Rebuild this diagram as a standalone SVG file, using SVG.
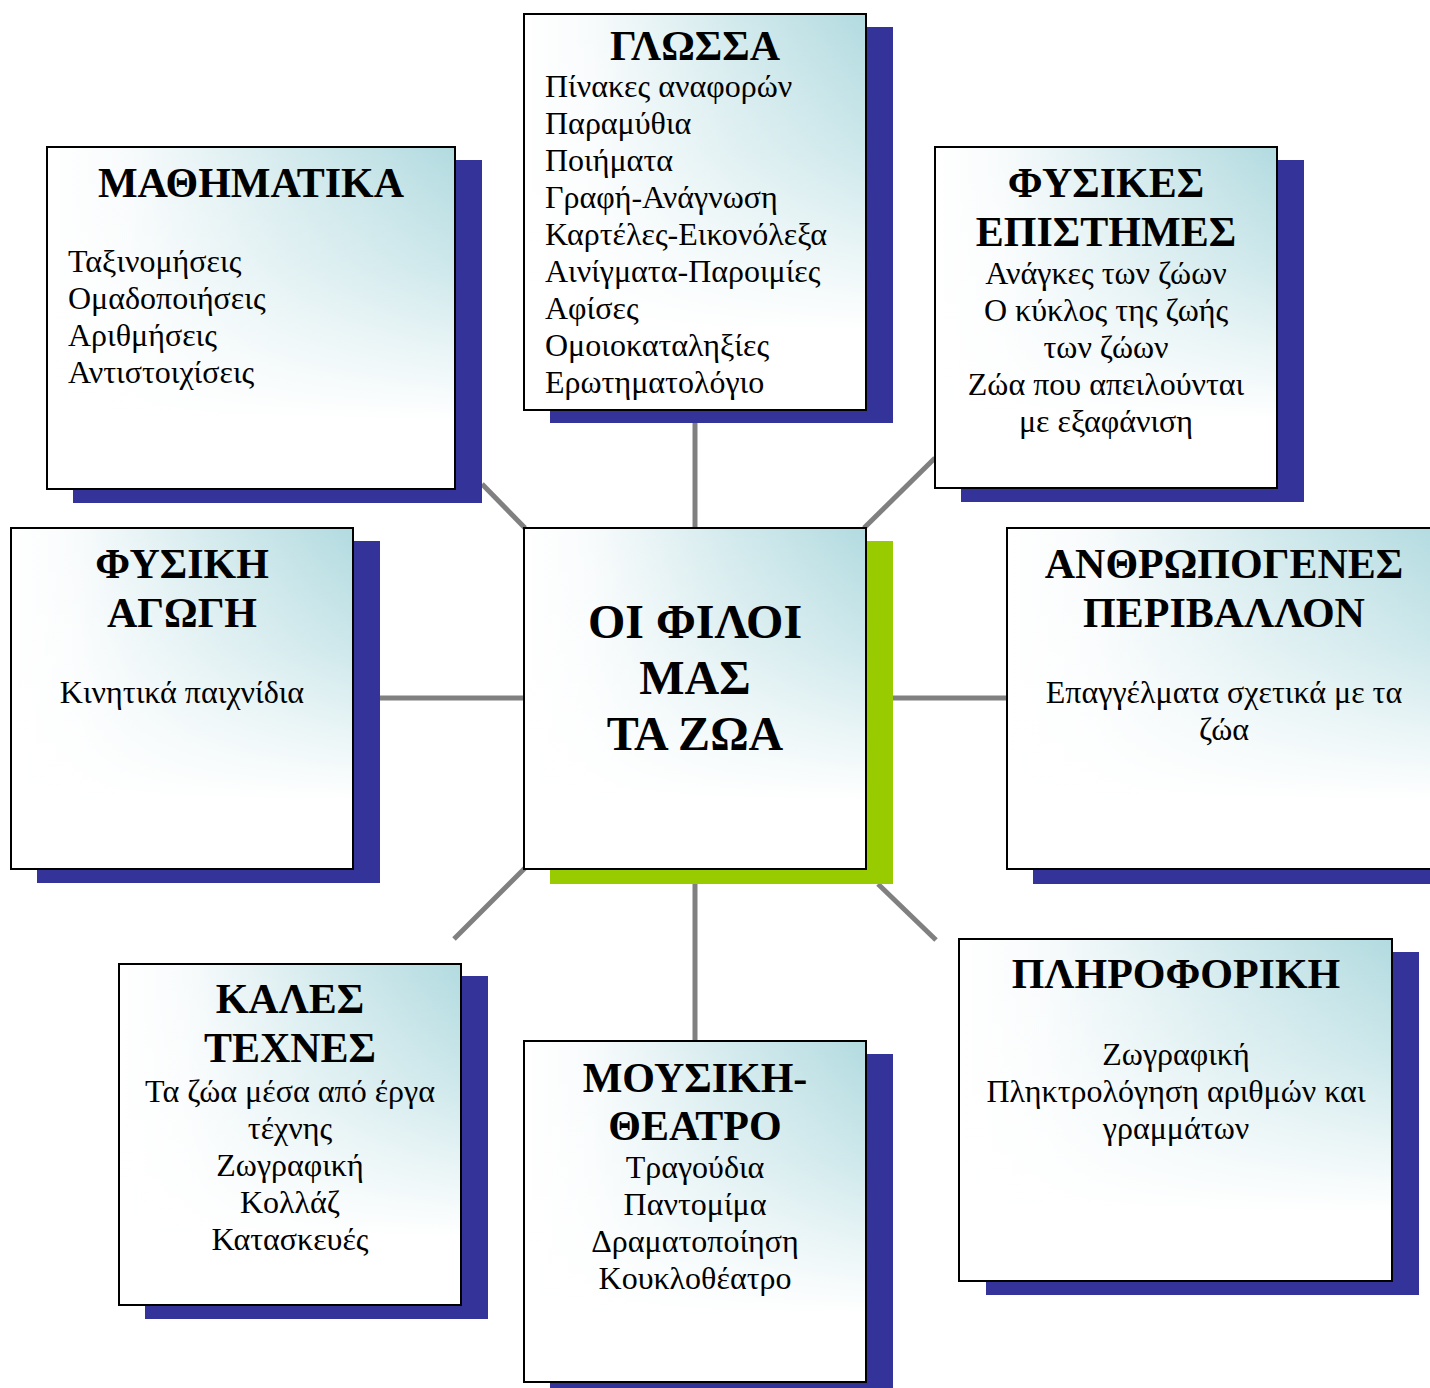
<svg xmlns="http://www.w3.org/2000/svg" width="1430" height="1388" viewBox="0 0 1430 1388">
<defs>
<linearGradient id="gh" x1="0" y1="0" x2="1" y2="0">
<stop offset="0" stop-color="#ffffff"/>
<stop offset="0.2" stop-color="#f8fbfc"/>
<stop offset="0.6" stop-color="#d3eaed"/>
<stop offset="1" stop-color="#b2dbe0"/>
</linearGradient>
<linearGradient id="gv" x1="0" y1="0" x2="0" y2="1">
<stop offset="0" stop-color="#ffffff" stop-opacity="0"/>
<stop offset="0.35" stop-color="#ffffff" stop-opacity="0.35"/>
<stop offset="0.8" stop-color="#ffffff" stop-opacity="1"/>
<stop offset="1" stop-color="#ffffff" stop-opacity="1"/>
</linearGradient>
</defs>
<style>
.sh{fill:#333399}
.shg{fill:#99cc00}
.bx{fill:url(#gh);stroke:none}
.ov{fill:url(#gv);stroke:#000;stroke-width:2}
.t{font-family:"Liberation Serif","Times New Roman",serif;font-size:42px;font-weight:bold;fill:#000;text-anchor:middle}
.tc{font-family:"Liberation Serif","Times New Roman",serif;font-size:48px;font-weight:bold;fill:#000;text-anchor:middle}
.b{font-family:"Liberation Serif","Times New Roman",serif;font-size:32px;fill:#000}
.m{text-anchor:middle}
.c{stroke:#808080;stroke-width:5;fill:none}
</style>
<rect width="1430" height="1388" fill="#fff"/>
<g id="connectors">
<line class="c" x1="695" y1="410" x2="695" y2="528"/>
<line class="c" x1="482" y1="484" x2="525" y2="528"/>
<line class="c" x1="864" y1="528" x2="935" y2="458"/>
<line class="c" x1="380" y1="698" x2="524" y2="698"/>
<line class="c" x1="893" y1="698" x2="1007" y2="698"/>
<line class="c" x1="525" y1="868" x2="454" y2="939"/>
<line class="c" x1="695" y1="884" x2="695" y2="1041"/>
<line class="c" x1="878" y1="884" x2="936" y2="940"/>
</g>
<g id="glossa">
<rect class="sh" x="550" y="27" width="343" height="396"/>
<rect class="bx" x="524" y="14" width="342" height="396"/>
<rect class="ov" x="524" y="14" width="342" height="396"/>
<text class="t" x="695" y="60">ΓΛΩΣΣΑ</text>
<text class="b" x="545" y="97">Πίνακες αναφορών</text>
<text class="b" x="545" y="134">Παραμύθια</text>
<text class="b" x="545" y="171">Ποιήματα</text>
<text class="b" x="545" y="208">Γραφή-Ανάγνωση</text>
<text class="b" x="545" y="245">Καρτέλες-Εικονόλεξα</text>
<text class="b" x="545" y="282">Αινίγματα-Παροιμίες</text>
<text class="b" x="545" y="319">Αφίσες</text>
<text class="b" x="545" y="356">Ομοιοκαταληξίες</text>
<text class="b" x="545" y="393">Ερωτηματολόγιο</text>
</g>
<g id="mathimatika">
<rect class="sh" x="73" y="160" width="409" height="343"/>
<rect class="bx" x="47" y="147" width="408" height="342"/>
<rect class="ov" x="47" y="147" width="408" height="342"/>
<text class="t" x="251" y="197">ΜΑΘΗΜΑΤΙΚΑ</text>
<text class="b" x="68" y="272">Ταξινομήσεις</text>
<text class="b" x="68" y="309">Ομαδοποιήσεις</text>
<text class="b" x="68" y="346">Αριθμήσεις</text>
<text class="b" x="68" y="383">Αντιστοιχίσεις</text>
</g>
<g id="fysikes-epistimes">
<rect class="sh" x="961" y="160" width="343" height="342"/>
<rect class="bx" x="935" y="147" width="342" height="341"/>
<rect class="ov" x="935" y="147" width="342" height="341"/>
<text class="t" x="1106" y="197">ΦΥΣΙΚΕΣ</text>
<text class="t" x="1106" y="246">ΕΠΙΣΤΗΜΕΣ</text>
<text class="b m" x="1106" y="284">Ανάγκες των ζώων</text>
<text class="b m" x="1106" y="321">Ο κύκλος της ζωής</text>
<text class="b m" x="1106" y="358">των ζώων</text>
<text class="b m" x="1106" y="395">Ζώα που απειλούνται</text>
<text class="b m" x="1106" y="432">με εξαφάνιση</text>
</g>
<g id="fysiki-agogi">
<rect class="sh" x="37" y="541" width="343" height="342"/>
<rect class="bx" x="11" y="528" width="342" height="341"/>
<rect class="ov" x="11" y="528" width="342" height="341"/>
<text class="t" x="182" y="578">ΦΥΣΙΚΗ</text>
<text class="t" x="182" y="627">ΑΓΩΓΗ</text>
<text class="b m" x="182" y="703">Κινητικά παιχνίδια</text>
</g>
<g id="center">
<rect class="shg" x="550" y="541" width="343" height="343"/>
<rect class="bx" x="524" y="528" width="342" height="341"/>
<rect class="ov" x="524" y="528" width="342" height="341"/>
<text class="tc" x="695" y="638">ΟΙ ΦΙΛΟΙ</text>
<text class="tc" x="695" y="694">ΜΑΣ</text>
<text class="tc" x="695" y="750">ΤΑ ΖΩΑ</text>
</g>
<g id="anthropogenes">
<rect class="sh" x="1033" y="541" width="434" height="343"/>
<rect class="bx" x="1007" y="528" width="434" height="341"/>
<rect class="ov" x="1007" y="528" width="434" height="341"/>
<text class="t" x="1224" y="578">ΑΝΘΡΩΠΟΓΕΝΕΣ</text>
<text class="t" x="1224" y="627">ΠΕΡΙΒΑΛΛΟΝ</text>
<text class="b m" x="1224" y="703">Επαγγέλματα σχετικά με τα</text>
<text class="b m" x="1224" y="740">ζώα</text>
</g>
<g id="kales-texnes">
<rect class="sh" x="145" y="976" width="343" height="343"/>
<rect class="bx" x="119" y="964" width="342" height="341"/>
<rect class="ov" x="119" y="964" width="342" height="341"/>
<text class="t" x="290" y="1013">ΚΑΛΕΣ</text>
<text class="t" x="290" y="1062">ΤΕΧΝΕΣ</text>
<text class="b m" x="290" y="1102">Τα ζώα μέσα από έργα</text>
<text class="b m" x="290" y="1139">τέχνης</text>
<text class="b m" x="290" y="1176">Ζωγραφική</text>
<text class="b m" x="290" y="1213">Κολλάζ</text>
<text class="b m" x="290" y="1250">Κατασκευές</text>
</g>
<g id="mousiki-theatro">
<rect class="sh" x="550" y="1054" width="343" height="343"/>
<rect class="bx" x="524" y="1041" width="342" height="341"/>
<rect class="ov" x="524" y="1041" width="342" height="341"/>
<text class="t" x="695" y="1092">ΜΟΥΣΙΚΗ-</text>
<text class="t" x="695" y="1140">ΘΕΑΤΡΟ</text>
<text class="b m" x="695" y="1178">Τραγούδια</text>
<text class="b m" x="695" y="1215">Παντομίμα</text>
<text class="b m" x="695" y="1252">Δραματοποίηση</text>
<text class="b m" x="695" y="1289">Κουκλοθέατρο</text>
</g>
<g id="pliroforiki">
<rect class="sh" x="986" y="952" width="433" height="343"/>
<rect class="bx" x="959" y="939" width="433" height="342"/>
<rect class="ov" x="959" y="939" width="433" height="342"/>
<text class="t" x="1176" y="988">ΠΛΗΡΟΦΟΡΙΚΗ</text>
<text class="b m" x="1176" y="1065">Ζωγραφική</text>
<text class="b m" x="1176" y="1102">Πληκτρολόγηση αριθμών και</text>
<text class="b m" x="1176" y="1139">γραμμάτων</text>
</g>
</svg>
